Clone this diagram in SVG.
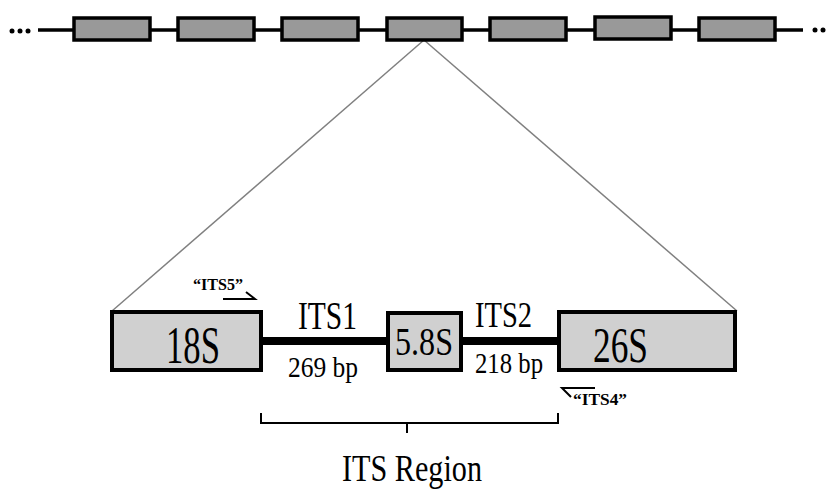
<svg xmlns="http://www.w3.org/2000/svg" width="827" height="490" viewBox="0 0 827 490">
<style>
.chr{fill:#999999;stroke:#000;stroke-width:3.5}
.big{fill:#d0d0d0;stroke:#000;stroke-width:4}
.t{font-family:"Liberation Serif","Times New Roman",serif;fill:#000;text-anchor:start}
.p{font-family:"Liberation Serif","Times New Roman",serif;font-weight:bold;font-size:16px;fill:#000}
.zoom{stroke:#808080;stroke-width:1.5;fill:none}
.thick{stroke:#000;stroke-width:8}
.thin{stroke:#000;stroke-width:2;fill:none}
</style>
<rect width="827" height="490" fill="#fff"/>
<g id="connectors">
  <line class="zoom" x1="424" y1="40" x2="112" y2="311"/>
  <line class="zoom" x1="424" y1="40" x2="737" y2="311"/>
  <line x1="38" y1="30" x2="803" y2="30" stroke="#000" stroke-width="3.5"/>
  <line class="thick" x1="262" y1="341" x2="388" y2="341"/>
  <line class="thick" x1="461" y1="341" x2="558" y2="341"/>
</g>
<g id="dots-left" fill="#000">
  <circle cx="12" cy="31" r="2.5"/><circle cx="20" cy="31" r="2.5"/><circle cx="28" cy="31" r="2.5"/>
</g>
<g id="dots-right" fill="#000">
  <circle cx="815" cy="30" r="2.5"/><circle cx="823" cy="30" r="2.5"/>
</g>
<g id="rep1"><rect class="chr" x="74" y="18" width="76" height="22"/></g>
<g id="rep2"><rect class="chr" x="178" y="18" width="76" height="22"/></g>
<g id="rep3"><rect class="chr" x="282" y="18" width="76" height="22"/></g>
<g id="rep4"><rect class="chr" x="387" y="18" width="75" height="22"/></g>
<g id="rep5"><rect class="chr" x="490" y="18" width="76" height="22"/></g>
<g id="rep6"><rect class="chr" x="595" y="17" width="76" height="22"/></g>
<g id="rep7"><rect class="chr" x="699" y="18" width="76" height="22"/></g>
<g id="n18S">
  <rect class="big" x="112" y="312" width="149" height="58"/>
  <text class="t" x="166" y="363" font-size="52" textLength="54" lengthAdjust="spacingAndGlyphs">18S</text>
</g>
<g id="n58S">
  <rect class="big" x="388" y="313" width="73" height="57"/>
  <text class="t" x="395" y="355" font-size="39" textLength="58" lengthAdjust="spacingAndGlyphs">5.8S</text>
</g>
<g id="n26S">
  <rect class="big" x="559" y="312" width="176" height="58"/>
  <text class="t" x="593" y="362" font-size="50" textLength="55" lengthAdjust="spacingAndGlyphs">26S</text>
</g>
<g id="its1">
  <text class="t" x="298" y="329" font-size="41" textLength="59" lengthAdjust="spacingAndGlyphs">ITS1</text>
  <text class="t" x="288" y="377" font-size="30" textLength="70" lengthAdjust="spacingAndGlyphs">269 bp</text>
</g>
<g id="its2">
  <text class="t" x="475" y="327" font-size="36" textLength="57" lengthAdjust="spacingAndGlyphs">ITS2</text>
  <text class="t" x="475" y="373" font-size="30" textLength="68" lengthAdjust="spacingAndGlyphs">218 bp</text>
</g>
<g id="its5">
  <text class="p" x="193" y="290" textLength="50" lengthAdjust="spacingAndGlyphs">“ITS5”</text>
  <polyline class="thin" stroke-width="3.5" points="223,299 255,299 246,292"/>
</g>
<g id="its4">
  <polyline class="thin" stroke-width="3.5" points="595,388 562,388 571,397"/>
  <text class="p" x="573" y="405" textLength="54" lengthAdjust="spacingAndGlyphs">“ITS4”</text>
</g>
<g id="itsregion">
  <polyline class="thin" stroke-width="1.5" points="261,413 261,423 558,423 558,413"/>
  <line class="thin" stroke-width="1.5" x1="407" y1="423" x2="407" y2="433"/>
  <text class="t" x="342" y="481" font-size="37" textLength="140" lengthAdjust="spacingAndGlyphs">ITS Region</text>
</g>
</svg>
